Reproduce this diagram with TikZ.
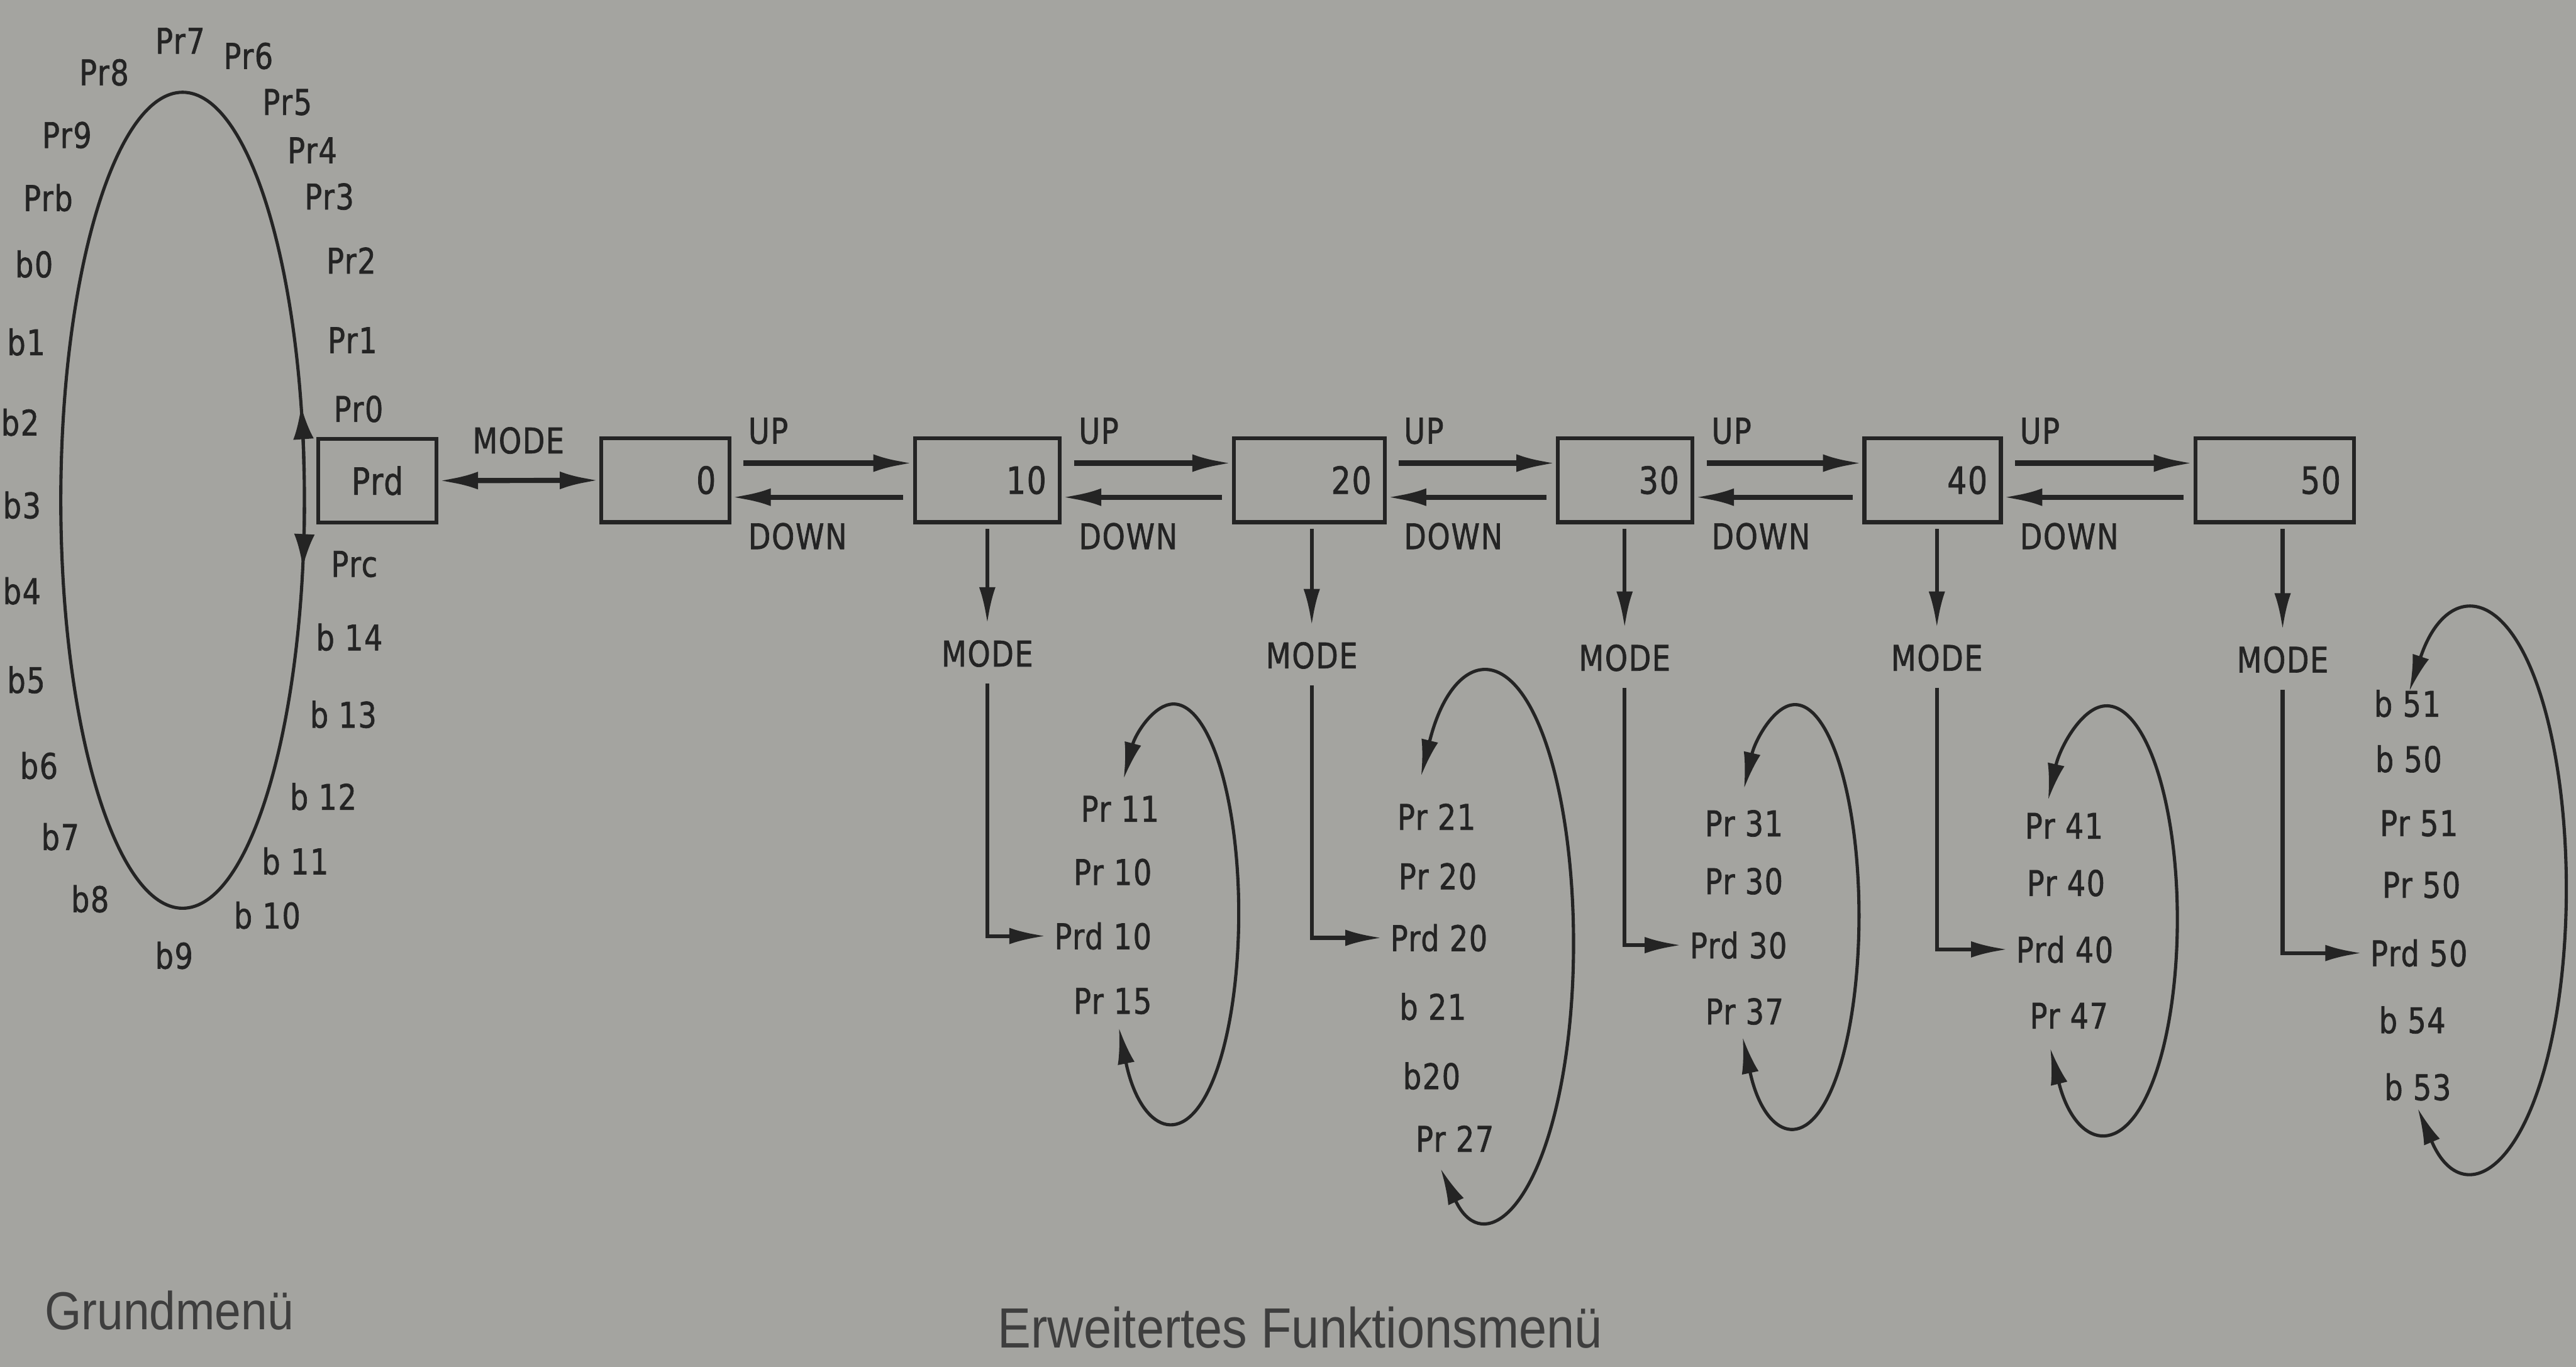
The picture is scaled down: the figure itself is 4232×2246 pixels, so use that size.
\documentclass[tikz,border=0pt]{standalone}
\usepackage{fontspec}
\setmainfont{Liberation Sans}
\newfontfamily\dinfont[FakeStretch=0.82,LetterSpace=3,FakeBold=1.2]{DejaVu Sans}
\newfontfamily\capfont[FakeStretch=0.88]{Liberation Sans}
\usetikzlibrary{calc,arrows.meta,positioning}
\definecolor{paperGray}{RGB}{164,164,160}
\definecolor{inkGray}{RGB}{36,36,36}
\definecolor{capGray}{RGB}{62,62,62}

\tikzset{
  lbl/.style={font=\dinfont\fontsize{16.5}{18}\selectfont, text=inkGray, inner sep=1pt},
  menubox/.style={draw=inkGray, line width=1.8pt, minimum height=1.38cm, inner xsep=0.22cm,
    align=right, font=\dinfont\fontsize{17.5}{19}\selectfont, text=inkGray},
  updown/.style={draw=inkGray, line width=2.4pt, -{Latex[length=6.5mm,width=2.9mm]}},
  modearrow/.style={draw=inkGray, line width=1.8pt, -{Latex[length=6mm,width=2.7mm]}},
  loopline/.style={draw=inkGray, line width=1.5pt,
    {Latex[length=6mm,width=2.8mm]}-{Latex[length=6mm,width=2.8mm]}},
  ringarrow/.style={draw=inkGray, line width=1.5pt, -{Latex[length=5.5mm,width=3.4mm]}},
  capt/.style={font=\capfont\fontsize{25}{28}\selectfont, text=capGray, inner sep=0pt},
}

\begin{document}
\begin{tikzpicture}[x=0.01cm, y=0.01cm]
\useasboundingbox (0,0) rectangle (4232,-2246);
\fill[paperGray] (0,0) rectangle (4232,-2246);

% Grundmenue ring
\coordinate (gm) at (300,-822);
\draw[inkGray, line width=1.5pt] (gm) ellipse [x radius=2cm, y radius=6.7cm];
\coordinate (gup) at ($(gm)+(4:2cm and 6.7cm)$);
\coordinate (gdn) at ($(gm)+(-1:2cm and 6.7cm)$);
\draw[ringarrow] (gup) arc[start angle=4, end angle=13.4, x radius=2cm, y radius=6.7cm];
\draw[ringarrow] (gdn) arc[start angle=-1, end angle=-9.5, x radius=2cm, y radius=6.7cm];

\foreach \txt/\px/\py [count=\i] in {Pr7/296/67, Pr6/408/92, Pr8/171/119, Pr5/472/168,
    Pr9/110/222, Pr4/513/247, Prb/79/325, Pr3/541/323, Pr2/577/428, b0/56/434,
    Pr1/579/559, b1/43/562, Pr0/589/672, b2/33/694, b3/36/830, Prc/582/927,
    b4/36/971, b 14/574/1047, b5/43/1117, b 13/564/1174, b6/64/1258, b 12/531/1309,
    b7/99/1375, b 11/485/1415, b8/148/1477, b 10/439/1504, b9/286/1570}
  \node[lbl] (g\i) at (\px,-\py) {\txt};

% menu boxes
\node[menubox, minimum width=1.94cm] (prd) at (620,-790) {Prd};
\foreach \n/\cx/\tw in {0/1093/1.66, 10/1622/1.94, 20/2151/2.04, 30/2670/1.77,
    40/3175/1.80, 50/3737/2.17}
  \node[menubox, text width=\tw cm] (b\n) at (\cx,-789) {\n};

\draw[modearrow, line width=2.4pt,
  {Latex[length=6.5mm,width=2.9mm]}-{Latex[length=6.5mm,width=2.9mm]}] (prd) -- (b0);
\node[lbl, above right=0.40cm and 0.52cm of prd.east] (m0) {MODE};

\foreach \a/\b in {0/10, 10/20, 20/30, 30/40, 40/50} {
  \draw[updown] ([xshift=2mm, yshift=2.8mm]b\a.east) -- ([yshift=2.8mm]b\b.west);
  \draw[updown] ([xshift=-1.6mm, yshift=-2.8mm]b\b.west) -- ([yshift=-2.8mm]b\a.east);
  \node[lbl, above right=0.55cm and 0.24cm of b\a.east] (up\a) {UP};
  \node[lbl, below right=0.66cm and 0.24cm of b\a.east] (dn\a) {DOWN};
}

% function lists
\foreach \txt/\px/\py/\nm in {Pr 11/1840/1329/p11, Pr 10/1828/1433/p10,
    Prd 10/1812/1538/d10, Pr 15/1828/1645/p15,
    Pr 21/2360/1342/p21, Pr 20/2362/1440/p20, Prd 20/2364/1541/d20,
    b 21/2354/1654/q21, b20/2352/1768/q20, Pr 27/2390/1871/p27,
    Pr 31/2865/1353/p31, Pr 30/2865/1448/p30, Prd 30/2856/1553/d30, Pr 37/2866/1662/p37,
    Pr 41/3391/1357/p41, Pr 40/3394/1451/p40, Prd 40/3392/1560/d40, Pr 47/3399/1669/p47,
    b 51/3955/1156/q51, b 50/3957/1247/q50, Pr 51/3974/1353/p51, Pr 50/3978/1454/p50,
    Prd 50/3974/1566/d50, b 54/3963/1676/q54, b 53/3972/1786/q53}
  \node[lbl] (\nm) at (\px,-\py) {\txt};

\foreach \n/\mx/\my in {10/1622/1074, 20/2155/1077, 30/2669/1081, 40/3182/1081,
    50/3750/1084} {
  \node[lbl] (m\n) at (\mx,-\my) {MODE};
  \draw[modearrow, shorten <=0.8mm, shorten >=2.3mm] (m\n |- b\n.south) -- (m\n.north);
  \draw[modearrow, shorten <=2.3mm, shorten >=1mm] (m\n.south) |- (d\n.west);
}

% loops
\foreach \n/\cx/\cy/\rx/\ry/\sa/\ea in {10/1928/1501/1.07/3.44/-147/140,
    20/2445/1550/1.40/4.46/-124/142, 30/2949/1505/1.05/3.47/-145/143,
    40/3461/1511/1.16/3.51/-143/146, 50/4065/1460/1.51/4.58/-128/135} {
  \coordinate (ls\n) at ($(\cx,-\cy)+(\sa:\rx cm and \ry cm)$);
  \draw[loopline] (ls\n) arc[start angle=\sa, end angle=\ea, x radius=\rx cm, y radius=\ry cm];
}

\node[capt, anchor=base west] (cap1) at (73,-2185) {Grundmenü};
\node[capt, anchor=base, font=\capfont\fontsize{26.5}{28}\selectfont] (cap2) at (2136,-2215)
  {Erweitertes Funktionsmenü};
\end{tikzpicture}
\end{document}
